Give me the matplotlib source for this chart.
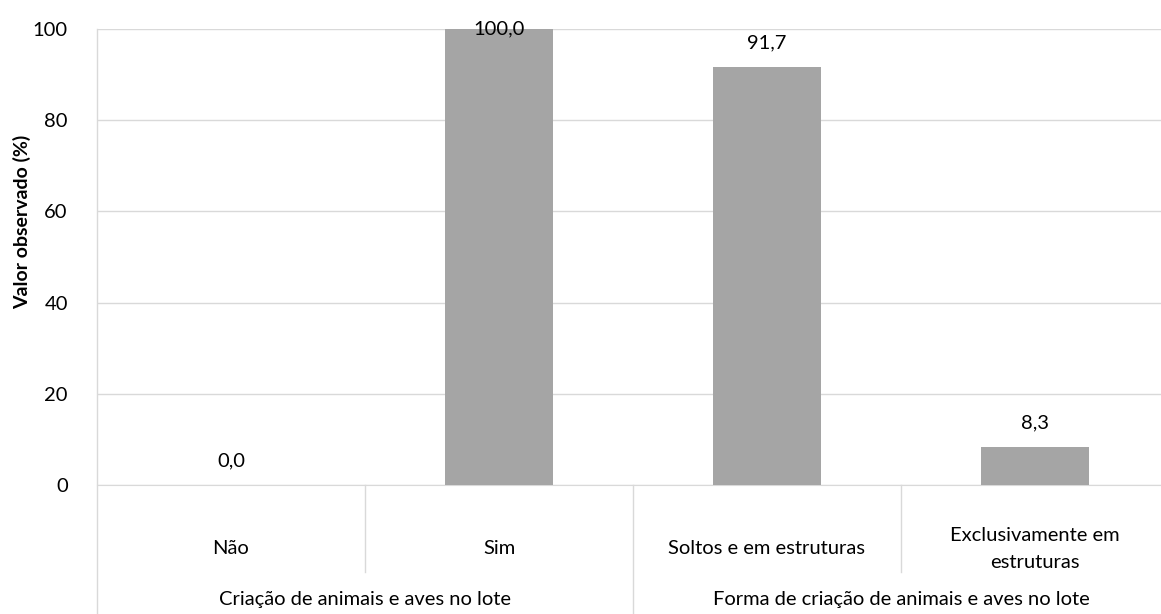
import matplotlib.pyplot as plt
from matplotlib.transforms import blended_transform_factory

plt.rcParams['font.family'] = ['Lato', 'DejaVu Sans']

# data
categories = ["Não", "Sim", "Soltos e em estruturas", "Exclusivamente em\nestruturas"]
values = [0.0, 100.0, 91.7, 8.3]
groups = ["Criação de animais e aves no lote", "Forma de criação de animais e aves no lote"]
group_sizes = [2, 2]
y_ticks = [0, 20, 40, 60, 80, 100]

bar_color = "#a5a5a5"
grid_color = "#d9d9d9"
fs = 14.5

W, H = 1161, 614
fig = plt.figure(figsize=(W / 100, H / 100), dpi=100)
x0, x1 = 97, 1169
y_top, y_bot = 29, 485
ax = fig.add_axes([x0 / W, (H - y_bot) / H, (x1 - x0) / W, (y_bot - y_top) / H])

xs = list(range(len(categories)))
ax.bar(xs, values, width=0.4, color=bar_color, zorder=3)
ax.set_xlim(-0.5, len(categories) - 0.5)
ax.set_ylim(0, 100)
ax.set_yticks(y_ticks)
ax.set_yticklabels([str(t) for t in y_ticks], fontsize=fs)
ax.tick_params(axis="y", length=0, pad=21)
ax.set_xticks([])
ax.grid(axis="y", color=grid_color, linewidth=1, zorder=0)
for s in ["top", "right", "left"]:
    ax.spines[s].set_visible(False)
ax.spines["bottom"].set_color(grid_color)
fig.text(22 / W, (H - 222) / H, "Valor observado (%)", rotation=90,
         ha="center", va="center", fontsize=14, fontweight="bold")

# value labels
for x, v in zip(xs, values):
    lbl = f"{v:.1f}".replace(".", ",")
    if v >= 99:
        ax.text(x, v, lbl, ha="center", va="center", fontsize=fs, zorder=4)
    else:
        ax.annotate(lbl, (x, v), xytext=(0, 11), textcoords="offset points",
                    ha="center", va="bottom", fontsize=fs, zorder=4)

# category axis (two levels)
tr = blended_transform_factory(ax.transData, ax.transAxes)
h = y_bot - y_top
lvl1_bot = -(572 - y_bot) / h
fig_bot = -(H - y_bot) / h
line_kw = dict(color=grid_color, linewidth=1, clip_on=False, transform=tr)

for x, c in zip(xs, categories):
    ax.text(x, -(549 - y_bot) / h, c, transform=tr, ha="center", va="center",
            fontsize=fs, linespacing=1.75)

ax.plot([-0.5, -0.5], [1, fig_bot], **line_kw)
start = 0
for g, n in zip(groups, group_sizes):
    for k in range(start + 1, start + n):
        ax.plot([k - 0.5, k - 0.5], [0, lvl1_bot], **line_kw)
    end = start + n
    ax.plot([end - 0.5, end - 0.5], [0, fig_bot], **line_kw)
    ax.text((start + end - 1) / 2, -(600 - y_bot) / h, g, transform=tr,
            ha="center", va="center", fontsize=fs)
    start = end

fig.savefig("out.png", dpi=100)
